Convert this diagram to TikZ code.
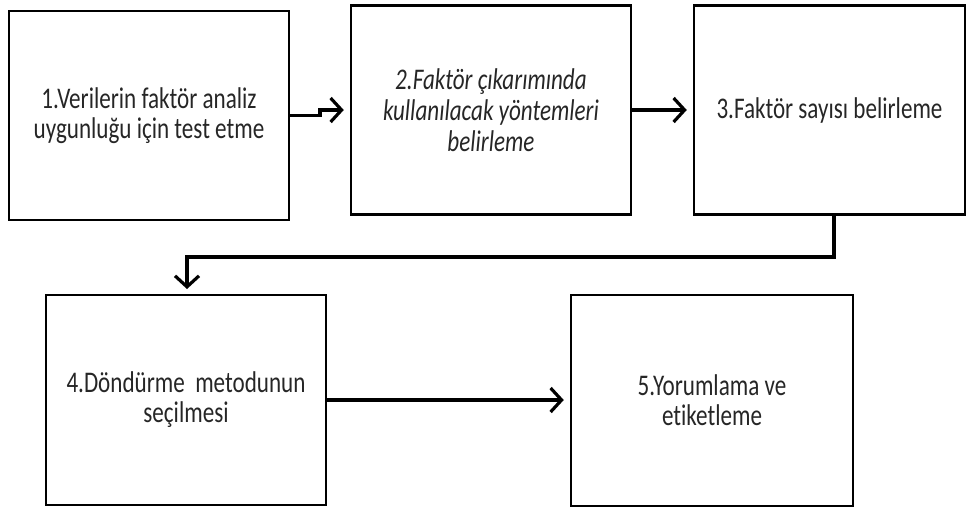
\documentclass[tikz,border=0pt]{standalone}
\usepackage{fontspec}
\setmainfont[FakeStretch=0.77,Ligatures={NoCommon}]{Carlito}
\usetikzlibrary{arrows.meta}
\tikzset{
  stepbox/.style={draw=black, line width=2.5pt, rectangle, inner sep=0pt,
    align=center, font=\fontsize{30pt}{30pt}\selectfont, text=black!85},
  flow/.style={line width=3.5pt, -{Straight Barb[length=11pt,width=24pt,line width=3.2pt]},
    shorten >=6pt}
}
\begin{document}
\begin{tikzpicture}[x=1pt,y=-1pt]
\useasboundingbox (0,0) rectangle (966,507);
\node[stepbox, minimum width=280pt, minimum height=209pt] (b1) at (149,115.5)
  {1.Verilerin faktör analiz\\uygunluğu için test etme};
\node[stepbox, minimum width=280pt, minimum height=209pt, font=\fontsize{30pt}{31pt}\selectfont\itshape] (b2) at (491,110)
  {2.Faktör çıkarımında\\kullanılacak yöntemleri\\belirleme};
\node[stepbox, minimum width=271pt, minimum height=209pt] (b3) at (829.5,110)
  {3.Faktör sayısı belirleme};
\node[stepbox, minimum width=280pt, minimum height=210pt] (b4) at (186,400)
  {4.Döndürme\ \ metodunun\\seçilmesi};
\node[stepbox, minimum width=282pt, minimum height=211pt] (b5) at (712,400.5)
  {5.Yorumlama ve\\etiketleme};
\coordinate (j1) at (320,115.5);
\coordinate (d1) at (834,257);
\coordinate (d2) at (187,257);
\coordinate (d3) at (187,295);
\draw[flow] (b1.east) -- (j1) |- (b2.west);
\draw[flow] (b2.east) -- (b3.west);
\draw[flow] (b3.south -| d1) -- (d1) -- (d2) -- (d3);
\draw[flow] (b4.east) -- (b4.east -| b5.west);
\end{tikzpicture}
\end{document}
